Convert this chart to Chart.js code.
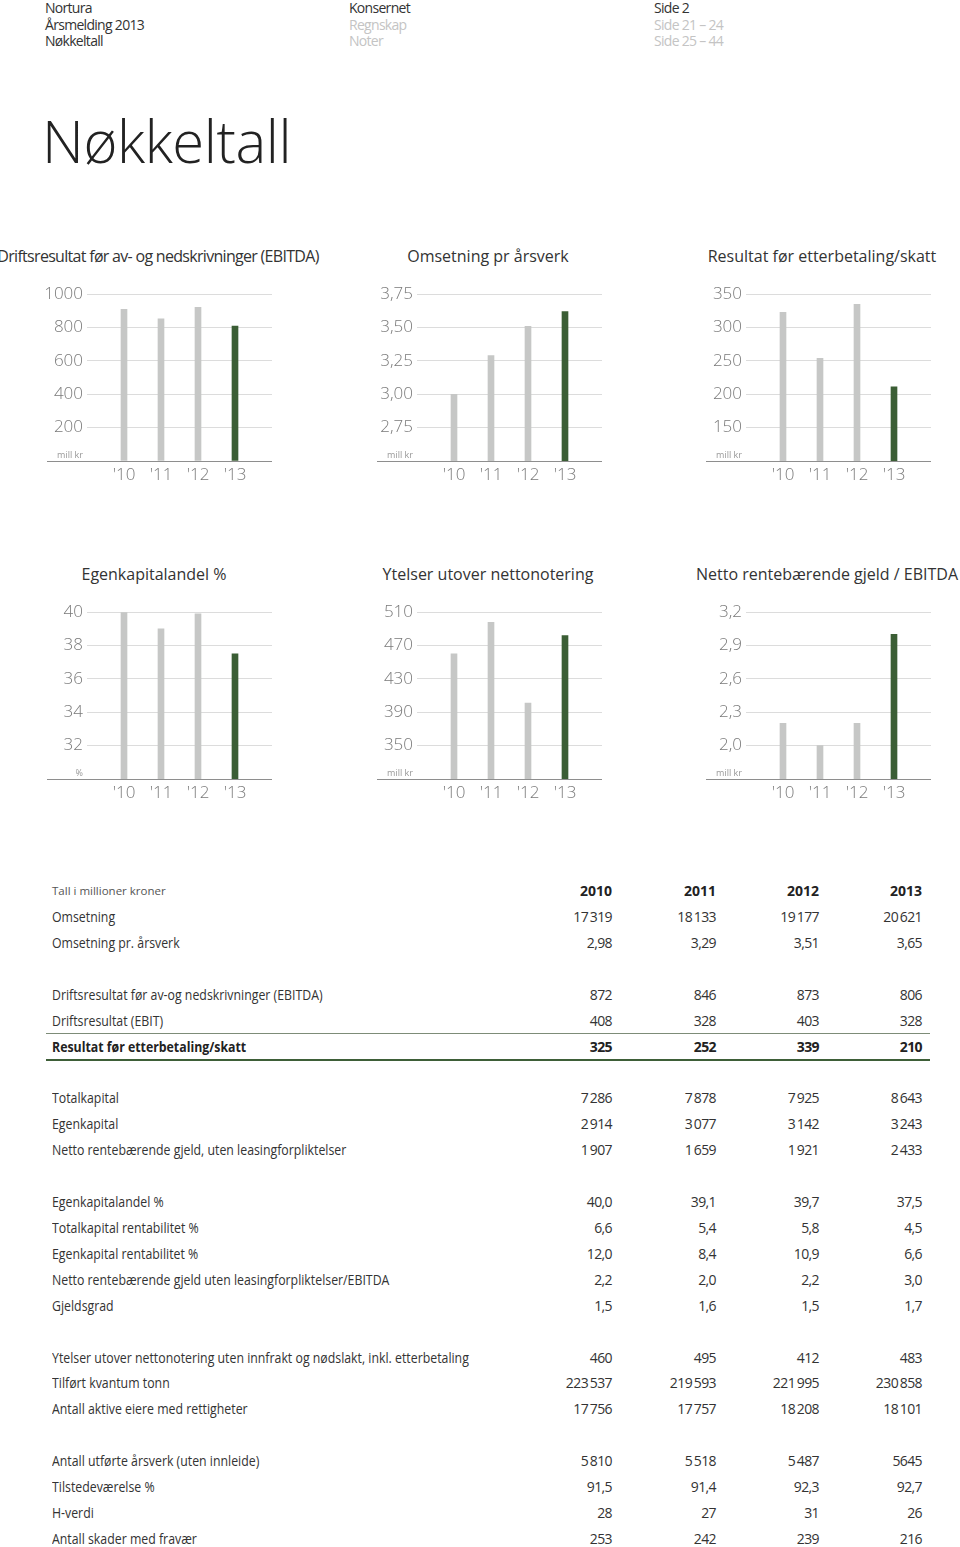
<!DOCTYPE html>
<html lang="no">
<head>
<meta charset="utf-8">
<title>Nøkkeltall</title>
<script src="https://cdn.jsdelivr.net/npm/chart.js@4.4.1/dist/chart.umd.min.js"></script>
<style>
  body { margin: 0; width: 960px; height: 1547px; position: relative; overflow: hidden;
         background: #fff; font-family: 'Open Sans', sans-serif; color: #333; }
  .hd { position: absolute; top: 0; font-size: 14px; line-height: 16.5px; letter-spacing: -0.7px; color: #333; }
  .hd .dim { color: #c4c4c4; }
  h1 { position: absolute; left: 42px; top: 112px; margin: 0; font-size: 58px; line-height: 58px;
       font-weight: 300; color: #222; letter-spacing: -0.4px; }
  .ctitle { position: absolute; font-size: 16px; line-height: 20px; color: #333; white-space: nowrap;
            transform: translateX(-50%); }
  canvas { position: absolute; }
  .row { position: absolute; left: 0; width: 960px; height: 26px; line-height: 26px; font-size: 14px; color: #333; }
  .row .lab { position: absolute; left: 52px; white-space: nowrap; transform: scaleX(0.88); transform-origin: left center; }
  .row .val { position: absolute; width: 100px; text-align: right; white-space: nowrap; letter-spacing: -0.6px; }
  .row.head .lab { font-size: 11.5px; color: #555; transform: none; }
  .row.head .val { font-weight: 700; color: #222; letter-spacing: 0; }
  .row.bold { font-weight: 700; color: #222; }
  .rule { position: absolute; left: 46px; width: 884px; }
</style>
</head>
<body>

<div class="hd" style="left:45px">Nortura<br>Årsmelding 2013<br>Nøkkeltall</div>
<div class="hd" style="left:349px">Konsernet<br><span class="dim">Regnskap</span><br><span class="dim">Noter</span></div>
<div class="hd" style="left:654px">Side 2<br><span class="dim">Side 21 – 24</span><br><span class="dim">Side 25 – 44</span></div>

<h1>Nøkkeltall</h1>

<div class="ctitle" style="left:158px;top:246px;letter-spacing:-0.7px">Driftsresultat før av- og nedskrivninger (EBITDA)</div>
<div class="ctitle" style="left:488px;top:246px">Omsetning pr årsverk</div>
<div class="ctitle" style="left:822px;top:246px">Resultat før etterbetaling/skatt</div>
<div class="ctitle" style="left:154px;top:564px">Egenkapitalandel %</div>
<div class="ctitle" style="left:488px;top:564px">Ytelser utover nettonotering</div>
<div class="ctitle" style="left:827px;top:564px">Netto rentebærende gjeld / EBITDA</div>

<canvas id="c1" width="300" height="210" style="left:0px;top:280px"></canvas>
<canvas id="c2" width="300" height="210" style="left:330px;top:280px"></canvas>
<canvas id="c3" width="300" height="210" style="left:659px;top:280px"></canvas>
<canvas id="c4" width="300" height="210" style="left:0px;top:598px"></canvas>
<canvas id="c5" width="300" height="210" style="left:330px;top:598px"></canvas>
<canvas id="c6" width="300" height="210" style="left:659px;top:598px"></canvas>

<div class="rule" style="top:1033px;border-top:1px solid #7d8c78"></div>
<div class="rule" style="top:1059px;border-top:2px solid #3e5f38"></div>

<script>
// year labels under the bars
const years = ["'10", "'11", "'12", "'13"];

// bar heights
const ebitda = [910, 853, 922, 809];
const omsetningPrArsverk = [3.00, 3.29, 3.51, 3.62];
const resultat = [323, 254, 335, 211];
const egenkapitalandel = [40.0, 39.0, 39.9, 37.5];
const ytelser = [460, 498, 401, 482];
const nettoGjeldEbitda = [2.2, 2.0, 2.2, 3.0];

// y axis ticks (first value = baseline, no label)
const ebitdaTicks = [0, 200, 400, 600, 800, 1000];
const omsetningTicks = [2.50, 2.75, 3.00, 3.25, 3.50, 3.75];
const resultatTicks = [100, 150, 200, 250, 300, 350];
const egenkapitalTicks = [30, 32, 34, 36, 38, 40];
const ytelserTicks = [310, 350, 390, 430, 470, 510];
const nettoGjeldTicks = [1.7, 2.0, 2.3, 2.6, 2.9, 3.2];

// table
const tableYears = ['2010', '2011', '2012', '2013'];
const tableRows = [
  ['Omsetning', '17 319', '18 133', '19 177', '20 621'],
  ['Omsetning pr. årsverk', '2,98', '3,29', '3,51', '3,65'],
  null,
  ['Driftsresultat før av-og nedskrivninger (EBITDA)', '872', '846', '873', '806'],
  ['Driftsresultat (EBIT)', '408', '328', '403', '328'],
  ['Resultat før etterbetaling/skatt', '325', '252', '339', '210'],
  null,
  ['Totalkapital', '7 286', '7 878', '7 925', '8 643'],
  ['Egenkapital', '2 914', '3 077', '3 142', '3 243'],
  ['Netto rentebærende gjeld, uten leasingforpliktelser', '1 907', '1 659', '1 921', '2 433'],
  null,
  ['Egenkapitalandel %', '40,0', '39,1', '39,7', '37,5'],
  ['Totalkapital rentabilitet %', '6,6', '5,4', '5,8', '4,5'],
  ['Egenkapital rentabilitet %', '12,0', '8,4', '10,9', '6,6'],
  ['Netto rentebærende gjeld uten leasingforpliktelser/EBITDA', '2,2', '2,0', '2,2', '3,0'],
  ['Gjeldsgrad', '1,5', '1,6', '1,5', '1,7'],
  null,
  ['Ytelser utover nettonotering uten innfrakt og nødslakt, inkl. etterbetaling', '460', '495', '412', '483'],
  ['Tilført kvantum tonn', '223 537', '219 593', '221 995', '230 858'],
  ['Antall aktive eiere med rettigheter', '17 756', '17 757', '18 208', '18 101'],
  null,
  ['Antall utførte årsverk (uten innleide)', '5 810', '5 518', '5 487', '5645'],
  ['Tilstedeværelse %', '91,5', '91,4', '92,3', '92,7'],
  ['H-verdi', '28', '27', '31', '26'],
  ['Antall skader med fravær', '253', '242', '239', '216']
];
const boldRow = 'Resultat før etterbetaling/skatt';

const GREY = '#c6c7c6';
const GREEN = '#3b5e35';
const FONT = "'Open Sans', sans-serif";

// baseline running left under the unit label, plus the unit label itself
const baselinePlugin = {
  id: 'baseline',
  afterDraw(chart, args, opts) {
    const ctx = chart.ctx;
    const a = chart.chartArea;
    ctx.save();
    ctx.strokeStyle = '#8e8e8e';
    ctx.lineWidth = 1;
    ctx.beginPath();
    ctx.moveTo(a.left - 40, Math.round(a.bottom) + 0.5);
    ctx.lineTo(a.right, Math.round(a.bottom) + 0.5);
    ctx.stroke();
    ctx.fillStyle = '#999';
    ctx.font = '9px ' + FONT;
    ctx.textAlign = 'right';
    ctx.textBaseline = 'middle';
    ctx.fillText(opts.unit, a.left - 4, a.bottom - 6);
    ctx.restore();
  }
};

function makeChart(id, values, ticks, decimals, unit) {
  const labels = [''].concat(years, ['']);
  const data = [null].concat(values, [null]);
  const colors = labels.map((l, i) => i === years.length ? GREEN : GREY);
  const base = ticks[0];

  new Chart(document.getElementById(id), {
    type: 'bar',
    data: {
      labels: labels,
      datasets: [{
        data: data,
        backgroundColor: colors,
        barThickness: 6,
        borderWidth: 0
      }]
    },
    plugins: [baselinePlugin],
    options: {
      responsive: false,
      animation: false,
      layout: { padding: { top: 13, right: 28, left: 0, bottom: 0 } },
      plugins: {
        legend: { display: false },
        tooltip: { enabled: false },
        baseline: { unit: unit }
      },
      scales: {
        x: {
          offset: false,
          grid: { display: false },
          border: { display: false },
          ticks: {
            autoSkip: false,
            maxRotation: 0,
            padding: -4,
            color: '#7a7a7a',
            font: { family: FONT, size: 17, weight: '300' }
          },
          afterFit: s => { s.height = 29; }
        },
        y: {
          min: base,
          max: ticks[ticks.length - 1],
          afterBuildTicks: s => { s.ticks = ticks.map(v => ({ value: v })); },
          grid: {
            drawTicks: false,
            color: c => c.tick && c.tick.value === base ? 'rgba(0,0,0,0)' : '#dcdcdc'
          },
          border: { display: false },
          ticks: {
            padding: 4,
            color: '#7a7a7a',
            font: { family: FONT, size: 17, weight: '300' },
            callback: v => v === base ? '' : v.toFixed(decimals).replace('.', ',')
          },
          afterFit: s => { s.width = 87; }
        }
      }
    }
  });
}

makeChart('c1', ebitda, ebitdaTicks, 0, 'mill kr');
makeChart('c2', omsetningPrArsverk, omsetningTicks, 2, 'mill kr');
makeChart('c3', resultat, resultatTicks, 0, 'mill kr');
makeChart('c4', egenkapitalandel, egenkapitalTicks, 0, '%');
makeChart('c5', ytelser, ytelserTicks, 0, 'mill kr');
makeChart('c6', nettoGjeldEbitda, nettoGjeldTicks, 1, 'mill kr');

// table rows
const valueRight = [612, 716, 819, 922];
const rowTop = 878;
const rowStep = 25.92;

function addRow(i, label, vals, cls) {
  const row = document.createElement('div');
  row.className = 'row' + (cls ? ' ' + cls : '');
  row.style.top = (rowTop + i * rowStep) + 'px';
  const lab = document.createElement('span');
  lab.className = 'lab';
  lab.textContent = label;
  row.appendChild(lab);
  vals.forEach((v, k) => {
    const s = document.createElement('span');
    s.className = 'val';
    s.style.left = (valueRight[k] - 100) + 'px';
    s.textContent = v.replace(/ /g, '\u2009');
    row.appendChild(s);
  });
  document.body.appendChild(row);
}

addRow(0, 'Tall i millioner kroner', tableYears, 'head');
tableRows.forEach((r, i) => {
  if (!r) return;
  addRow(i + 1, r[0], r.slice(1), r[0] === boldRow ? 'bold' : '');
});
</script>
</body>
</html>
